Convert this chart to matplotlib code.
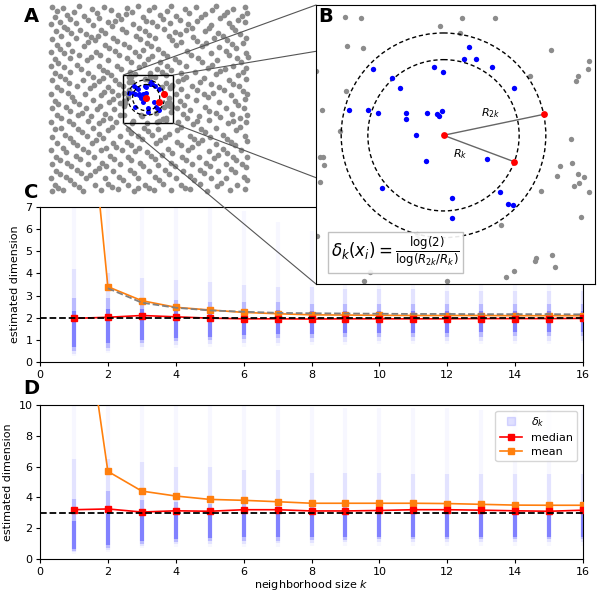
import numpy as np
import matplotlib.pyplot as plt
from matplotlib.patches import Rectangle, Ellipse, Circle, ConnectionPatch
from matplotlib.lines import Line2D

# ---------------- data ----------------
# panel A: grey point cloud (x, y in panel-A pixel units, y downwards)
A_POINTS = """
52,7 57,11 63,8 74,12 79,6 92,9 97,13 104,7 111,10 127,8 132,12 138,6 149,10 154,7 167,11 171,6 185,9 189,13 196,7 212,10 216,6 227,12 233,9 245,7
55,17 67,15 70,19 84,16 88,20 99,18 118,15 121,19 126,14 143,17 146,21 160,15 163,19 176,16 180,20 201,17 205,14 220,18 224,15 238,20 242,16 247,13
51,24 60,22 64,27 76,23 93,25 108,22 112,26 115,21 133,24 139,28 152,22 157,26 170,23 188,24 192,28 197,21 211,25 229,23 232,27 245,22
56,31 67,29 71,33 80,30 86,34 101,30 105,33 122,29 126,32 145,31 149,35 164,29 175,32 180,34 186,30 205,31 209,28 218,33 235,30 240,34
52,39 61,36 76,38 91,37 95,40 98,36 113,38 117,41 136,36 140,39 155,38 169,36 172,40 193,37 197,41 214,38 223,36 227,40 246,38
57,45 60,49 68,44 84,46 88,42 105,45 109,48 124,44 129,47 147,43 151,46 158,49 176,45 181,42 202,46 206,43 219,47 232,44 236,48 243,43
51,52 64,53 72,51 79,55 96,52 100,55 115,51 119,55 135,52 139,56 143,50 163,53 167,56 187,51 191,55 211,53 226,51 229,55 246,53
55,59 58,63 70,58 87,60 91,57 108,60 127,58 131,62 148,59 152,56 160,62 175,59 179,62 198,58 202,62 217,60 237,58 241,62 248,57
51,66 64,67 77,65 81,69 99,66 103,70 117,66 121,69 139,67 144,64 157,69 167,66 171,70 186,66 208,68 212,65 225,69 233,66 246,68
55,73 60,76 70,72 88,73 93,77 107,72 111,75 130,72 135,74 150,73 162,72 166,75 181,73 186,77 195,72 216,74 220,71 238,75 243,72
52,80 65,79 69,83 83,80 99,81 103,78 115,80 119,84 178,81 183,79 200,82 204,78 211,84 229,80 233,84 246,79
57,87 61,90 77,86 90,88 94,85 108,87 112,91 181,89 192,86 197,90 219,87 224,90 239,86 243,91
51,94 68,93 72,97 85,94 101,95 104,92 118,95 176,94 187,96 204,94 208,97 213,93 231,95 247,94
55,101 58,104 74,101 79,104 93,100 109,102 113,99 120,103 180,101 184,105 196,100 219,102 235,101 238,105 245,99
52,108 66,107 70,111 86,108 97,109 100,106 114,109 177,108 190,110 205,107 209,111 226,108 244,108
57,115 61,118 78,115 82,113 91,116 105,114 110,118 120,115 183,114 187,118 199,116 216,113 220,117 232,114 240,118 247,115
51,122 69,121 73,124 88,121 99,123 103,120 116,122 178,122 193,124 197,121 209,120 228,123 233,121 246,122
55,129 61,128 78,129 82,132 93,128 108,130 112,127 128,129 131,133 144,128 148,131 158,129 177,130 181,127 201,129 205,132 216,128 236,130 240,127
52,137 65,135 70,138 87,136 99,134 103,138 120,136 138,136 142,139 152,135 165,137 169,134 190,136 194,139 210,137 223,135 227,139 245,136
57,143 73,142 77,145 92,143 96,140 113,143 116,147 127,142 131,145 156,143 160,140 177,142 181,145 198,143 202,140 216,144 231,142 235,145 247,141
51,150 63,148 66,152 83,149 88,152 101,150 106,148 122,150 135,151 139,148 147,152 168,149 172,153 188,150 192,147 209,151 223,149 227,153 241,150
56,157 60,160 76,156 80,159 94,157 110,156 114,159 128,157 131,160 151,156 155,159 162,155 182,157 186,160 199,157 214,158 218,155 233,157 236,160 247,157
52,164 67,163 71,166 88,164 102,163 106,166 120,164 140,163 143,166 158,165 171,163 175,166 192,164 206,163 210,166 226,164 242,164 246,167
56,171 60,174 77,170 81,173 95,171 99,168 113,171 130,170 134,173 149,171 165,170 169,174 183,171 200,170 204,173 218,171 231,169 235,172
51,178 66,177 70,180 86,178 90,175 105,178 119,177 123,180 138,178 155,177 159,180 176,178 190,176 194,180 211,178 226,178 244,177 247,180
55,185 58,188 74,184 79,187 95,185 108,184 112,187 128,185 145,185 149,188 163,184 181,185 185,188 200,184 217,186 221,183 237,185
52,191 63,190 83,191 101,190 118,189 134,191 138,188 154,190 171,190 190,189 207,191 230,190 245,189
"""

# zoom box in panel A (x0, y0, w, h)
BOX = (123.3, 75.0, 50.0, 48.3)

# panel B points, local coords 0..100 (y downwards)
B_RED_X = [45.7, 71.1, 81.6]      # x_i, k-th neighbour, 2k-th neighbour
B_RED_Y = [46.7, 56.2, 39.2]
B_BLUE_X = [54.9, 53.0, 57.5, 63.0, 20.4, 42.4, 45.5, 27.3, 30.0, 70.9, 11.8, 18.6, 22.4, 32.3,
            32.1, 39.9, 43.4, 44.0, 45.2, 36.0, 39.6, 61.3, 23.7, 65.8, 68.7, 70.5, 48.7, 48.9]
B_BLUE_Y = [15.0, 19.4, 19.3, 22.4, 22.9, 22.2, 24.1, 26.2, 29.7, 29.9, 37.6, 37.6, 38.6, 38.6,
            40.8, 38.6, 38.9, 39.8, 38.1, 46.7, 56.0, 55.2, 65.7, 67.1, 71.4, 71.7, 69.1, 76.5]
B_GRAY_X = [10.4, 16.2, 52.4, 64.3, 44.3, 51.6, 11.2, 16.8, 84.4, 97.9, 97.6, 94.0, 93.1, 76.8,
            10.7, 0.1, 2.1, 8.7, 91.4, 1.3, 2.4, 2.9, 1.4, 87.4, 91.8, 86.4, 93.8, 95.9, 92.4,
            94.4, 97.7, 80.5, 66.2, 94.9, 0.4, 36.2, 36.5, 84.7, 78.9, 78.5, 85.6, 70.9, 68.0,
            17.1, 19.2, 46.9]
B_GRAY_Y = [4.4, 4.6, 4.6, 4.6, 7.4, 10.2, 14.6, 15.3, 16.0, 19.9, 23.1, 25.5, 27.4, 25.3,
            30.7, 23.5, 37.7, 45.3, 48.0, 54.5, 54.5, 57.2, 63.5, 57.8, 56.6, 61.4, 60.7, 61.8,
            64.8, 63.8, 66.9, 66.6, 78.8, 75.9, 82.8, 82.0, 84.0, 89.6, 90.8, 91.6, 94.0, 95.2,
            97.4, 98.8, 95.8, 98.8]

K = list(range(1, 17))

# panel C (2-d data)
C_MEDIAN = [1.97, 2.02, 2.10, 2.04, 1.98, 1.95, 1.95, 1.94, 1.95, 1.95, 1.95, 1.95, 1.96, 1.96, 1.96, 1.97]
C_MEAN = [19.0, 3.40, 2.77, 2.47, 2.35, 2.24, 2.18, 2.13, 2.12, 2.11, 2.10, 2.10, 2.10, 2.09, 2.09, 2.09]
C_EXPECT_K = list(range(2, 17))
C_EXPECT = [3.33, 2.68, 2.45, 2.33, 2.27, 2.22, 2.20, 2.19, 2.18, 2.17, 2.17, 2.16, 2.16, 2.16, 2.15]
C_TRUE = 2
C_FAINT_LO = [0.25, 0.40, 0.55, 0.62, 0.68, 0.70, 0.72, 0.75, 0.78, 0.80, 0.80, 0.82, 0.82, 0.83, 0.83, 0.84]
C_FAINT_HI = [7.0, 7.0, 7.0, 7.0, 7.0, 6.8, 6.3, 5.9, 5.8, 5.8, 5.7, 5.7, 5.7, 5.6, 5.6, 5.6]
C_MID_LO = [0.35, 0.50, 0.70, 0.78, 0.82, 0.85, 0.87, 0.90, 0.92, 0.93, 0.94, 0.95, 0.95, 0.96, 0.96, 0.97]
C_MID_HI = [4.2, 4.0, 3.8, 3.7, 3.6, 3.5, 3.4, 3.4, 3.3, 3.3, 3.3, 3.2, 3.2, 3.2, 3.2, 3.2]
C_DENSE_LO = [0.50, 0.65, 0.85, 0.95, 1.00, 1.05, 1.08, 1.10, 1.12, 1.13, 1.14, 1.15, 1.15, 1.16, 1.16, 1.17]
C_DENSE_HI = [2.9, 2.9, 2.8, 2.8, 2.7, 2.7, 2.7, 2.6, 2.6, 2.6, 2.6, 2.6, 2.6, 2.6, 2.6, 2.6]
C_CORE_LO = [0.70, 0.85, 1.00, 1.10, 1.15, 1.20, 1.25, 1.28, 1.30, 1.30, 1.32, 1.33, 1.34, 1.35, 1.35, 1.35]
C_CORE_HI = [2.3, 2.4, 2.4, 2.4, 2.4, 2.35, 2.35, 2.3, 2.3, 2.3, 2.3, 2.3, 2.3, 2.3, 2.3, 2.3]

# panel D (3-d data)
D_MEDIAN = [3.20, 3.25, 3.05, 3.13, 3.10, 3.20, 3.20, 3.12, 3.12, 3.15, 3.20, 3.20, 3.17, 3.13, 3.10, 3.17]
D_MEAN = [21.0, 5.69, 4.41, 4.09, 3.87, 3.81, 3.72, 3.62, 3.62, 3.62, 3.62, 3.60, 3.55, 3.50, 3.49, 3.49]
D_TRUE = 3
D_FAINT_LO = [0.35, 0.45, 0.70, 0.75, 0.78, 0.80, 0.80, 0.82, 0.82, 0.83, 0.83, 0.84, 0.84, 0.85, 0.85, 0.85]
D_FAINT_HI = [10, 10, 10, 10, 10, 10, 10, 9.9, 9.8, 9.8, 9.8, 9.8, 9.7, 9.7, 9.7, 9.7]
D_MID_LO = [0.45, 0.60, 0.85, 0.95, 1.00, 1.00, 1.05, 1.05, 1.10, 1.10, 1.10, 1.10, 1.12, 1.12, 1.12, 1.12]
D_MID_HI = [6.5, 6.5, 6.3, 6.0, 6.0, 5.8, 5.8, 5.6, 5.6, 5.6, 5.5, 5.5, 5.5, 5.5, 5.5, 5.5]
D_DENSE_LO = [0.55, 0.70, 1.00, 1.10, 1.15, 1.20, 1.20, 1.25, 1.25, 1.28, 1.28, 1.30, 1.30, 1.30, 1.30, 1.30]
D_DENSE_HI = [3.9, 4.4, 3.8, 3.7, 3.6, 3.6, 3.6, 3.5, 3.5, 3.5, 3.5, 3.5, 3.5, 3.5, 3.5, 3.5]
D_CORE_LO = [0.65, 0.90, 1.20, 1.30, 1.35, 1.40, 1.40, 1.42, 1.42, 1.45, 1.45, 1.45, 1.45, 1.45, 1.45, 1.45]
D_CORE_HI = [2.5, 3.2, 3.2, 3.1, 3.1, 3.0, 3.0, 3.0, 3.0, 3.0, 3.0, 3.0, 3.0, 3.0, 3.0, 3.0]

# ---------------- figure ----------------
W, H = 600, 596
fig = plt.figure(figsize=(W / 100, H / 100), dpi=100)


def px_axes(x0, y0, x1, y1):
    return fig.add_axes([x0 / W, 1 - y1 / H, (x1 - x0) / W, (y1 - y0) / H])


GREY = '#8c8c8c'
ORANGE = '#ff7f0e'

# ---- panel A
pts = np.array([p.split(',') for p in A_POINTS.split()], dtype=float)
bx0, by0, bw, bh = BOX
inside = (pts[:, 0] > bx0) & (pts[:, 0] < bx0 + bw) & (pts[:, 1] > by0) & (pts[:, 1] < by0 + bh)
pts = pts[~inside]


def to_a(x, y):
    return bx0 + np.asarray(x) / 100 * bw, by0 + np.asarray(y) / 100 * bh


axA = px_axes(45, 0, 255, 200)
axA.set_xlim(45, 255)
axA.set_ylim(200, 0)
axA.axis('off')
axA.scatter(pts[:, 0], pts[:, 1], s=17, color=GREY, linewidths=0)
gx, gy = to_a(B_GRAY_X, B_GRAY_Y)
axA.scatter(gx, gy, s=17, color=GREY, linewidths=0)
ux, uy = to_a(B_BLUE_X, B_BLUE_Y)
axA.scatter(ux, uy, s=13, color='blue', linewidths=0, zorder=3)
rx, ry = to_a(B_RED_X, B_RED_Y)
axA.scatter(rx, ry, s=26, color='red', linewidths=0, zorder=4)

cx, cy = B_RED_X[0], B_RED_Y[0]
r_k = np.hypot(B_RED_X[1] - cx, B_RED_Y[1] - cy)
r_2k = np.hypot(B_RED_X[2] - cx, B_RED_Y[2] - cy)
for r in (r_k, r_2k):
    axA.add_patch(Ellipse((rx[0], ry[0]), 2 * r * bw / 100, 2 * r * bh / 100, fill=False,
                          ec='k', lw=0.9, ls=(0, (3, 2)), zorder=3))
axA.add_patch(Rectangle((bx0, by0), bw, bh, fill=False, ec='k', lw=1.0, zorder=5))

# ---- panel B
axB = px_axes(316, 5, 595, 284)
axB.set_zorder(3)
axB.set_xlim(0, 100)
axB.set_ylim(100, 0)
axB.set_xticks([])
axB.set_yticks([])
axB.scatter(B_GRAY_X, B_GRAY_Y, s=15, color=GREY, linewidths=0)
axB.scatter(B_BLUE_X, B_BLUE_Y, s=15, color='blue', linewidths=0, zorder=3)
for r in (r_k, r_2k):
    axB.add_patch(Circle((cx, cy), r, fill=False, ec='k', lw=1.0, ls=(0, (3, 2)), zorder=2))
for i in (1, 2):
    axB.plot([cx, B_RED_X[i]], [cy, B_RED_Y[i]], color='#666666', lw=1.0, zorder=3)
axB.scatter(B_RED_X, B_RED_Y, s=24, color='red', linewidths=0, zorder=4)
axB.text(62.8, 38.7, r'$R_{2k}$', fontsize=8, ha='center', va='center')
axB.text(51.7, 53.5, r'$R_k$', fontsize=8, ha='center', va='center')
axB.text(0.055, 0.05, r'$\delta_k(x_i) = \frac{\log(2)}{\log(R_{2k}/R_k)}$', fontsize=12,
         transform=axB.transAxes, ha='left', va='bottom',
         bbox=dict(boxstyle='square,pad=0.2', fc='white', ec='#bbbbbb', alpha=0.9), zorder=6)

# connector lines from zoom box to panel B
for (xa, ya), (xb, yb) in [((bx0, by0), (0, 1)), ((bx0 + bw, by0), (1, 1)),
                           ((bx0 + bw, by0 + bh), (1, 0)), ((bx0, by0 + bh), (0, 0))]:
    con = ConnectionPatch(xyA=(xa, ya), coordsA=axA.transData, xyB=(xb, yb),
                          coordsB=axB.transAxes, color='#555555', lw=0.8)
    con.set_zorder(2)
    fig.add_artist(con)

# ---- panels C and D
band_alpha = [0.03, 0.08, 0.18, 0.30]


def strip_panel(ax, bands, median, mean, true_dim, ymax):
    for (lo, hi), a in zip(bands, band_alpha):
        ax.vlines(K, lo, hi, colors='blue', alpha=a, lw=3.0, zorder=1)
    ax.axhline(true_dim, color='k', ls='--', lw=1.3, zorder=5)
    ax.plot(K, median, color='red', marker='s', ms=5, lw=1.2, zorder=4, label='median')
    ax.plot(K, mean, color=ORANGE, marker='s', ms=5, lw=1.2, zorder=3, label='mean')
    ax.set_xlim(0, 16)
    ax.set_ylim(0, ymax)
    ax.set_xticks(range(0, 17, 2))
    ax.tick_params(labelsize=8, length=3, pad=2.5)
    ax.set_ylabel('estimated dimension', fontsize=8)


axC = px_axes(40, 207, 583, 362)
strip_panel(axC, [(C_FAINT_LO, C_FAINT_HI), (C_MID_LO, C_MID_HI), (C_DENSE_LO, C_DENSE_HI),
                  (C_CORE_LO, C_CORE_HI)], C_MEDIAN, C_MEAN, C_TRUE, 7)
axC.plot(C_EXPECT_K, C_EXPECT, color='grey', ls='--', lw=1.3, zorder=3.5)
axC.set_yticks(range(0, 8))

axD = px_axes(40, 405, 583, 559)
strip_panel(axD, [(D_FAINT_LO, D_FAINT_HI), (D_MID_LO, D_MID_HI), (D_DENSE_LO, D_DENSE_HI),
                  (D_CORE_LO, D_CORE_HI)], D_MEDIAN, D_MEAN, D_TRUE, 10)
axD.set_yticks(range(0, 11, 2))
axD.set_xlabel('neighborhood size $k$', fontsize=8, labelpad=1)
handles = [Line2D([], [], marker='s', ls='none', color='blue', alpha=0.12, ms=6, label=r'$\delta_k$')]
handles += axD.get_legend_handles_labels()[0]
axD.legend(handles=handles, loc='upper right', fontsize=8, labelspacing=0.35)

# panel letters
for letter, (x, y) in zip('ABCD', [(31, 16), (326, 16), (31, 193), (31, 389)]):
    fig.text(x / W, 1 - y / H, letter, fontsize=14, fontweight='bold', ha='center', va='center',
             zorder=10)

fig.savefig('out.png', dpi=100)
